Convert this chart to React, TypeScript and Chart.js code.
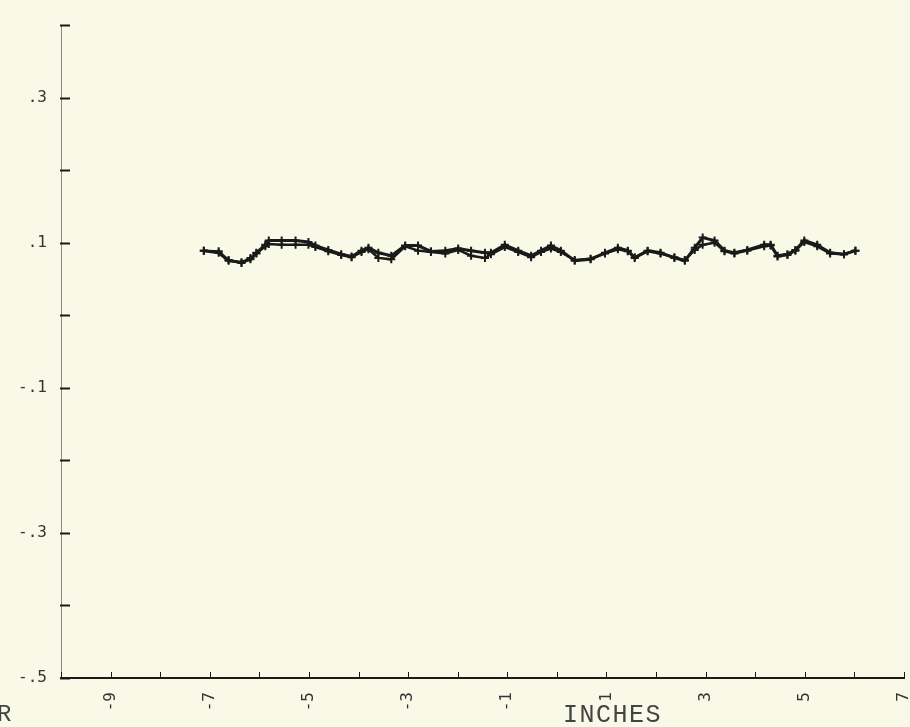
import React, { useEffect, useRef } from 'react';
import { Chart, registerables } from 'chart.js';

Chart.register(...registerables);

// Positions along the profile (inches)
const xPositions = [
  -7.12, -6.82, -6.62, -6.36, -6.18, -6.06, -5.88, -5.81, -5.55, -5.27,
  -5.01, -4.87, -4.61, -4.35, -4.14, -3.94, -3.80, -3.60, -3.34, -3.06,
  -2.80, -2.54, -2.25, -1.99, -1.73, -1.45, -1.33, -1.05, -0.78, -0.52,
  -0.32, -0.12, 0.08, 0.36, 0.68, 0.97, 1.23, 1.43, 1.57, 1.83,
  2.09, 2.37, 2.58, 2.78, 2.94, 3.18, 3.38, 3.58, 3.84, 4.18,
  4.31, 4.45, 4.65, 4.81, 4.99, 5.25, 5.51, 5.79, 6.02,
];

const seriesA = [
  0.089, 0.086, 0.075, 0.073, 0.077, 0.086, 0.097, 0.103, 0.103, 0.103,
  0.101, 0.096, 0.090, 0.084, 0.081, 0.089, 0.093, 0.086, 0.082, 0.096,
  0.096, 0.088, 0.089, 0.092, 0.089, 0.086, 0.086, 0.097, 0.089, 0.082,
  0.089, 0.096, 0.089, 0.075, 0.077, 0.086, 0.093, 0.089, 0.079, 0.089,
  0.086, 0.079, 0.075, 0.093, 0.107, 0.103, 0.089, 0.086, 0.090, 0.097,
  0.097, 0.082, 0.084, 0.090, 0.103, 0.097, 0.086, 0.084, 0.089,
];

const seriesB = [
  0.089, 0.088, 0.076, 0.072, 0.079, 0.085, 0.095, 0.098, 0.097, 0.097,
  0.097, 0.094, 0.088, 0.083, 0.080, 0.087, 0.091, 0.079, 0.077, 0.095,
  0.089, 0.087, 0.085, 0.090, 0.082, 0.079, 0.084, 0.094, 0.087, 0.080,
  0.087, 0.092, 0.087, 0.076, 0.078, 0.085, 0.091, 0.088, 0.080, 0.088,
  0.085, 0.080, 0.076, 0.090, 0.097, 0.100, 0.088, 0.085, 0.089, 0.095,
  0.096, 0.081, 0.083, 0.089, 0.101, 0.095, 0.085, 0.084, 0.089,
];

const xTickLabels = ['-9', '-7', '-5', '-3', '-1', '1', '3', '5', '7'];
const yTickValues = [-0.5, -0.3, -0.1, 0.1, 0.3];
const yTickLabels = ['-.5', '-.3', '-.1', '.1', '.3'];

const INK = '#1a1a1a';
const BG = '#f9f9e8';

const tickMarks = {
  id: 'tickMarks',
  afterDraw(chart: any) {
    const { ctx, chartArea, scales } = chart;
    ctx.save();
    ctx.strokeStyle = INK;
    ctx.lineWidth = 2;
    scales.y.ticks.forEach((t: any) => {
      const py = Math.round(scales.y.getPixelForValue(t.value)) + 0.5;
      ctx.beginPath();
      ctx.moveTo(chartArea.left - 1, py);
      ctx.lineTo(chartArea.left + 9, py);
      ctx.stroke();
    });
    ctx.lineWidth = 1;
    scales.x.ticks.forEach((t: any) => {
      const px = Math.round(scales.x.getPixelForValue(t.value)) + 0.5;
      ctx.beginPath();
      ctx.moveTo(px, chartArea.bottom);
      ctx.lineTo(px, chartArea.bottom - 6);
      ctx.stroke();
    });
    ctx.restore();
  },
};

export default function App() {
  const canvasRef = useRef<HTMLCanvasElement | null>(null);

  useEffect(() => {
    if (!canvasRef.current) return;
    const mk = (ys: number[]) => xPositions.map((x, i) => ({ x, y: ys[i] }));
    const chart = new Chart(canvasRef.current, {
      type: 'line',
      data: {
        datasets: [
          {
            label: 'A',
            data: mk(seriesA),
            borderColor: INK,
            backgroundColor: INK,
            borderWidth: 3,
            pointStyle: 'cross',
            pointRadius: 4,
            pointBorderWidth: 2,
            pointBorderColor: INK,
            tension: 0,
          },
          {
            label: 'B',
            data: mk(seriesB),
            borderColor: INK,
            backgroundColor: INK,
            borderWidth: 2.5,
            pointStyle: 'cross',
            pointRadius: 4,
            pointBorderWidth: 2,
            pointBorderColor: INK,
            tension: 0,
          },
        ],
      },
      options: {
        animation: false,
        responsive: false,
        devicePixelRatio: 1,
        layout: { padding: { top: 25, right: 3, left: 0, bottom: 0 } },
        plugins: { legend: { display: false }, tooltip: { enabled: false } },
        scales: {
          x: {
            type: 'linear',
            min: -10,
            max: 7,
            afterFit: (s: any) => {
              s.height = 49;
              s.paddingLeft = 0;
              s.paddingRight = 0;
            },
            border: { display: true, color: INK, width: 2 },
            grid: { display: false, drawTicks: false },
            ticks: {
              stepSize: 1,
              autoSkip: false,
              minRotation: 90,
              maxRotation: 90,
              padding: 14,
              color: '#333',
              font: { family: 'DejaVu Sans Mono', size: 16 },
              callback: (v: any) => {
                const s = String(Math.round(Number(v)));
                return xTickLabels.includes(s) ? s : '';
              },
            },
          },
          y: {
            type: 'linear',
            min: -0.5,
            max: 0.4,
            afterFit: (s: any) => {
              s.width = 61;
              s.paddingTop = 0;
              s.paddingBottom = 0;
            },
            border: { display: true, color: '#8a8a80', width: 1, dash: [4, 2] },
            grid: { display: false, drawTicks: false },
            ticks: {
              stepSize: 0.1,
              padding: 14,
              color: '#333',
              font: { family: 'DejaVu Sans Mono', size: 16 },
              callback: (v: any) => {
                const i = yTickValues.findIndex((t) => Math.abs(t - Number(v)) < 1e-6);
                return i >= 0 ? yTickLabels[i] : '';
              },
            },
          },
        },
      },
      plugins: [tickMarks],
    });
    return () => chart.destroy();
  }, []);

  return (
    <div
      style={{
        position: 'fixed',
        left: 0,
        top: 0,
        width: 910,
        height: 727,
        background: BG,
        overflow: 'hidden',
      }}
    >
      <canvas ref={canvasRef} width={910} height={727} style={{ display: 'block' }} />
      <div
        style={{
          position: 'absolute',
          left: 563,
          top: 703,
          fontFamily: '"Liberation Mono", monospace',
          fontSize: 25,
          lineHeight: '25px',
          letterSpacing: 1.5,
          color: '#444',
        }}
      >
        INCHES
      </div>
      <div
        style={{
          position: 'absolute',
          left: -3,
          top: 703,
          fontFamily: '"Liberation Mono", monospace',
          fontSize: 24,
          lineHeight: '24px',
          color: '#444',
        }}
      >
        R
      </div>
    </div>
  );
}
